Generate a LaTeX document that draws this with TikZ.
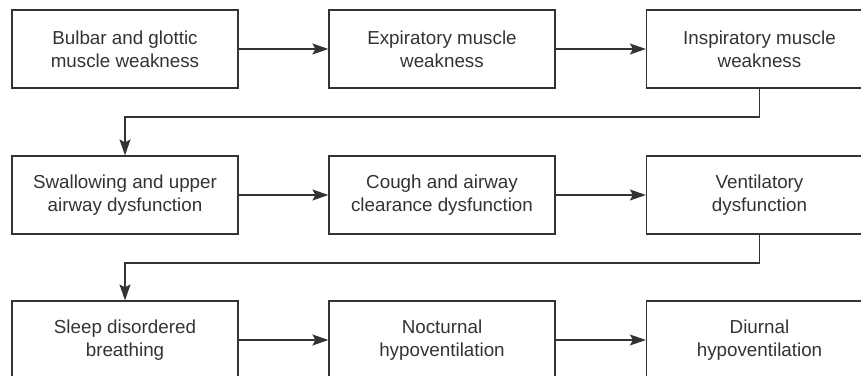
\documentclass[tikz,border=0pt]{standalone}
\usepackage{fontspec}
\setmainfont{Liberation Sans}
\usetikzlibrary{arrows.meta}
\definecolor{ink}{HTML}{333333}
\tikzset{box/.style={draw=ink, line width=0.6pt, minimum width=113pt, minimum height=39pt,
  inner sep=0pt, align=center, text=ink, font=\fontsize{9.4}{11.5}\selectfont}}

\begin{document}
\begin{tikzpicture}[x=0.5pt, y=0.5pt, >={Stealth[length=8pt,width=5.5pt,inset=1.5pt]}, line width=0.6pt, draw=ink]
\useasboundingbox (0,0) rectangle (861,375);
\clip (0,0) rectangle (861,375);
\node[box] (A1) at (125,326)   {Bulbar and glottic\\muscle weakness};
\node[box] (A2) at (442,326)   {Expiratory muscle\\weakness};
\node[box] (A3) at (759.5,326) {Inspiratory muscle\\weakness};
\node[box] (B1) at (125,180)   {Swallowing and upper\\airway dysfunction};
\node[box] (B2) at (442,180)   {Cough and airway\\clearance dysfunction};
\node[box] (B3) at (759.5,180) {Ventilatory\\dysfunction};
\node[box] (C1) at (125,35)    {Sleep disordered\\breathing};
\node[box] (C2) at (442,35)    {Nocturnal\\hypoventilation};
\node[box] (C3) at (759.5,35)  {Diurnal\\hypoventilation};

\coordinate (K1) at (759.5,258);
\coordinate (K2) at (125,258);
\coordinate (K3) at (759.5,112);
\coordinate (K4) at (125,112);

\draw[->, ink] (A1) -- (A2);
\draw[->, ink] (A2) -- (A3);
\draw[->, ink] (A3.south) -- (K1) -- (K2) -- (B1.north);
\draw[->, ink] (B1) -- (B2);
\draw[->, ink] (B2) -- (B3);
\draw[->, ink] (B3.south) -- (K3) -- (K4) -- (C1.north);
\draw[->, ink] (C1) -- (C2);
\draw[->, ink] (C2) -- (C3);
\end{tikzpicture}
\end{document}
